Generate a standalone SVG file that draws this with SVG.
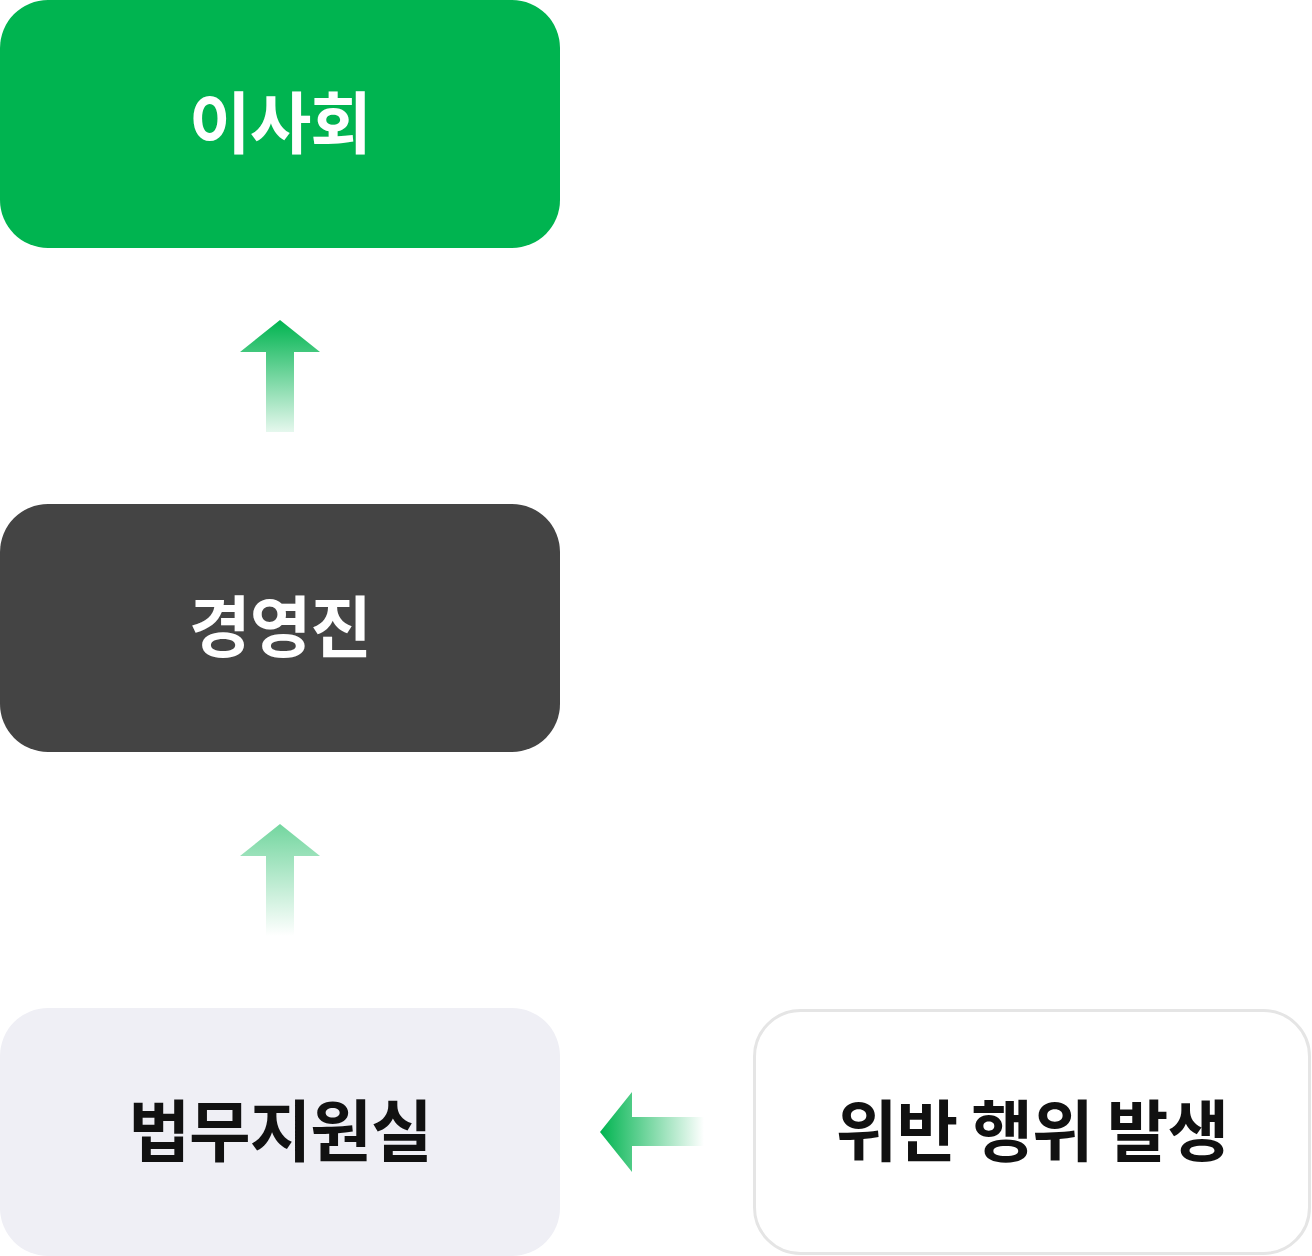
<svg xmlns="http://www.w3.org/2000/svg" width="1312" height="1256" viewBox="0 0 1312 1256">
<style>
.t{font-family:"Noto Sans CJK KR","Noto Sans",sans-serif;font-weight:700;font-size:67px;text-anchor:middle;letter-spacing:-1px}
</style>
<defs>
<linearGradient id="g1" x1="0" y1="0" x2="0" y2="1">
<stop offset="0" stop-color="#00b450"/>
<stop offset="1" stop-color="#00b450" stop-opacity="0.1"/>
</linearGradient>
<linearGradient id="g2" x1="0" y1="0" x2="0" y2="1">
<stop offset="0" stop-color="#00b450" stop-opacity="0.55"/>
<stop offset="1" stop-color="#00b450" stop-opacity="0"/>
</linearGradient>
<linearGradient id="g3" x1="0" y1="0" x2="1" y2="0">
<stop offset="0" stop-color="#00b450"/>
<stop offset="1" stop-color="#00b450" stop-opacity="0"/>
</linearGradient>
</defs>
<g id="n1">
<rect x="0" y="0" width="560" height="248" rx="48" fill="#00b450"/>
<text class="t" x="280" y="148" fill="#ffffff">이사회</text>
</g>
<g id="n2">
<rect x="0" y="504" width="560" height="248" rx="48" fill="#444444"/>
<text class="t" x="280" y="652" fill="#ffffff">경영진</text>
</g>
<g id="n3">
<rect x="0" y="1008" width="560" height="248" rx="48" fill="#efeff5"/>
<text class="t" x="280" y="1156" fill="#111111">법무지원실</text>
</g>
<g id="n4">
<rect x="754.5" y="1010.5" width="555" height="243" rx="46" fill="#ffffff" stroke="#e5e5e5" stroke-width="3"/>
<text class="t" x="1032" y="1156" fill="#111111">위반 행위 발생</text>
</g>
<g id="connectors">
<path d="M280 320 L320 352 L294 352 L294 432 L266 432 L266 352 L240 352 Z" fill="url(#g1)"/>
<path d="M280 824 L320 856 L294 856 L294 936 L266 936 L266 856 L240 856 Z" fill="url(#g2)"/>
<path d="M600 1132 L632 1092 L632 1117 L704 1117 L704 1146 L632 1146 L632 1172 Z" fill="url(#g3)"/>
</g>
</svg>
